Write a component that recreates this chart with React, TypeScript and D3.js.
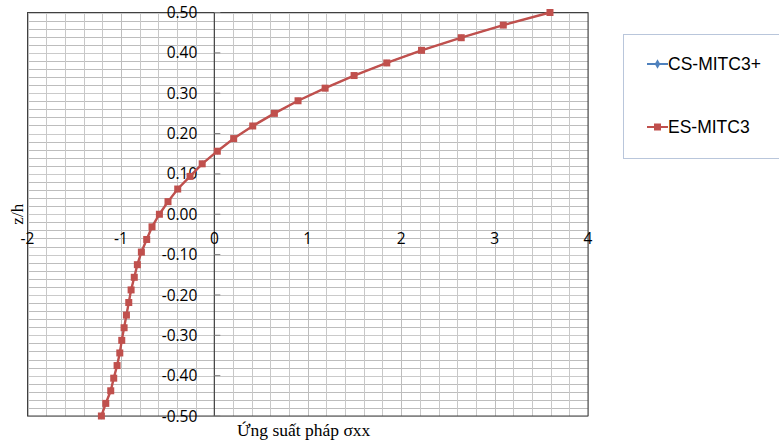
import * as d3 from 'd3';

// z/h positions through the thickness (top to bottom)
const zLevels = [
    0.5, 0.46875, 0.4375, 0.40625, 0.375, 0.34375, 0.3125, 0.28125, 0.25, 0.21875, 0.1875,
    0.15625, 0.125, 0.09375, 0.0625, 0.03125, 0, -0.03125, -0.0625, -0.09375, -0.125,
    -0.15625, -0.1875, -0.21875, -0.25, -0.28125, -0.3125, -0.34375, -0.375, -0.40625,
    -0.4375, -0.46875, -0.5,
];

// normal stress sigma_xx for each level
const csMitc3Plus = [
    3.593, 3.093, 2.643, 2.218, 1.846, 1.496, 1.186, 0.896, 0.643, 0.411, 0.207,
    0.032, -0.13, -0.26, -0.392, -0.496, -0.588, -0.667, -0.724, -0.781, -0.824,
    -0.857, -0.891, -0.916, -0.941, -0.966, -0.991, -1.012, -1.041, -1.077,
    -1.109, -1.162, -1.209,
];
const esMitc3 = [
    3.593, 3.093, 2.643, 2.218, 1.846, 1.496, 1.186, 0.896, 0.643, 0.411, 0.207,
    0.032, -0.13, -0.26, -0.392, -0.496, -0.588, -0.667, -0.724, -0.781, -0.824,
    -0.857, -0.891, -0.916, -0.941, -0.966, -0.991, -1.012, -1.041, -1.077,
    -1.109, -1.162, -1.209,
];

const xTicks = [-2, -1, 0, 1, 2, 3, 4];
const yTicks = [0.5, 0.4, 0.3, 0.2, 0.1, 0, -0.1, -0.2, -0.3, -0.4, -0.5];
const seriesNames = ['CS-MITC3+', 'ES-MITC3'];

const W = 779;
const H = 446;
const sansFont = '"Open Sans", "Liberation Sans", Arial, sans-serif';
const serifFont = '"Liberation Serif", "Times New Roman", serif';

const App = () => {
    const x = d3.scaleLinear().domain([-2, 4]).range([27.5, 588]);
    const y = d3.scaleLinear().domain([-0.5, 0.5]).range([416, 12.5]);

    const vGrid = d3.range(-2, 4.0001, 0.2);
    const hGrid = d3.range(-0.5, 0.5001, 0.02);

    const line = d3.line<number>()
        .x(d => x(d))
        .y((_, i) => y(zLevels[i]));

    const blue = '#4f81bd';
    const red = '#c0504d';
    const sq = 7;
    const diamond = d3.symbol(d3.symbolDiamond, 14)() || '';

    return (
        <svg width={W} height={H} style={{position: 'absolute', left: 0, top: 0, background: '#fff'}}>
            {/* grid */}
            <g>
                {hGrid.map((v, i) => (
                    <line key={'h' + i} x1={x(-2)} x2={x(4)} y1={Math.round(y(v)) + 0.5} y2={Math.round(y(v)) + 0.5}
                          stroke={i % 5 === 0 ? '#cacaca' : '#bdbdbd'} strokeWidth={1}/>
                ))}
                {vGrid.map((v, i) => (
                    <line key={'v' + i} x1={Math.round(x(v)) + 0.5} x2={Math.round(x(v)) + 0.5} y1={y(0.5)} y2={y(-0.5)}
                          stroke={i % 5 === 0 ? '#bdbdbd' : '#c8c8c8'} strokeWidth={1}/>
                ))}
            </g>

            {/* frame */}
            <rect x={x(-2)} y={y(0.5)} width={x(4) - x(-2)} height={y(-0.5) - y(0.5)}
                  fill="none" stroke="#404040" strokeWidth={1}/>

            {/* vertical axis at x = 0 */}
            <line x1={x(0)} x2={x(0)} y1={y(0.5)} y2={y(-0.5)} stroke="#404040" strokeWidth={1.2}/>
            {yTicks.map(t => (
                <line key={'yt' + t} x1={x(0)} x2={x(0) + 6} y1={y(t)} y2={y(t)} stroke="#808080" strokeWidth={1}/>
            ))}
            {yTicks.map(t => (
                <text key={'yl' + t} x={x(0) - 17} y={y(t)} dy="0.36em" textAnchor="end"
                      fontFamily={sansFont} fontSize={15.5} fill="#000">{t.toFixed(2)}</text>
            ))}

            {/* horizontal axis labels */}
            {xTicks.map(t => (
                <text key={'xl' + t} x={x(t)} y={y(0) + 24} dy="0.36em" textAnchor="middle"
                      fontFamily={sansFont} fontSize={15.5} fill="#000">{t}</text>
            ))}

            {/* axis titles */}
            <text transform={`translate(23, ${y(0)}) rotate(-90)`} textAnchor="middle"
                  fontFamily={serifFont} fontSize={17} fill="#000">z/h</text>
            <text x={237} y={436} fontFamily={serifFont} fontSize={17.5} fill="#000">Ứng suất pháp σxx</text>

            {/* series */}
            <path d={line(csMitc3Plus) || ''} fill="none" stroke={blue} strokeWidth={1.2}/>
            {csMitc3Plus.map((v, i) => (
                <path key={'b' + i} d={diamond}
                      transform={`translate(${x(v)},${y(zLevels[i])})`} fill={blue}/>
            ))}
            <path d={line(esMitc3) || ''} fill="none" stroke={red} strokeWidth={2.4}/>
            {esMitc3.map((v, i) => (
                <rect key={'r' + i} x={x(v) - sq / 2} y={y(zLevels[i]) - sq / 2} width={sq} height={sq} fill={red}/>
            ))}

            {/* legend */}
            <rect x={623.5} y={34.5} width={170} height={124} fill="#fff" stroke="#b9c6db" strokeWidth={1}/>
            {seriesNames.map((name, i) => {
                const ly = i === 0 ? 64 : 127;
                const color = i === 0 ? blue : red;
                return (
                    <g key={name}>
                        <line x1={647} x2={668} y1={ly} y2={ly} stroke={color} strokeWidth={2}/>
                        {i === 0
                            ? <path d={d3.symbol(d3.symbolDiamond, 26)() || ''} transform={`translate(657.5,${ly})`} fill={color}/>
                            : <rect x={657.5 - sq / 2} y={ly - sq / 2} width={sq} height={sq} fill={color}/>}
                        <text x={668} y={ly} dy="0.36em" fontFamily='"Liberation Sans", Arial, sans-serif'
                              fontSize={17.5} fill="#000">{name}</text>
                    </g>
                );
            })}
        </svg>
    );
};

export default App;
